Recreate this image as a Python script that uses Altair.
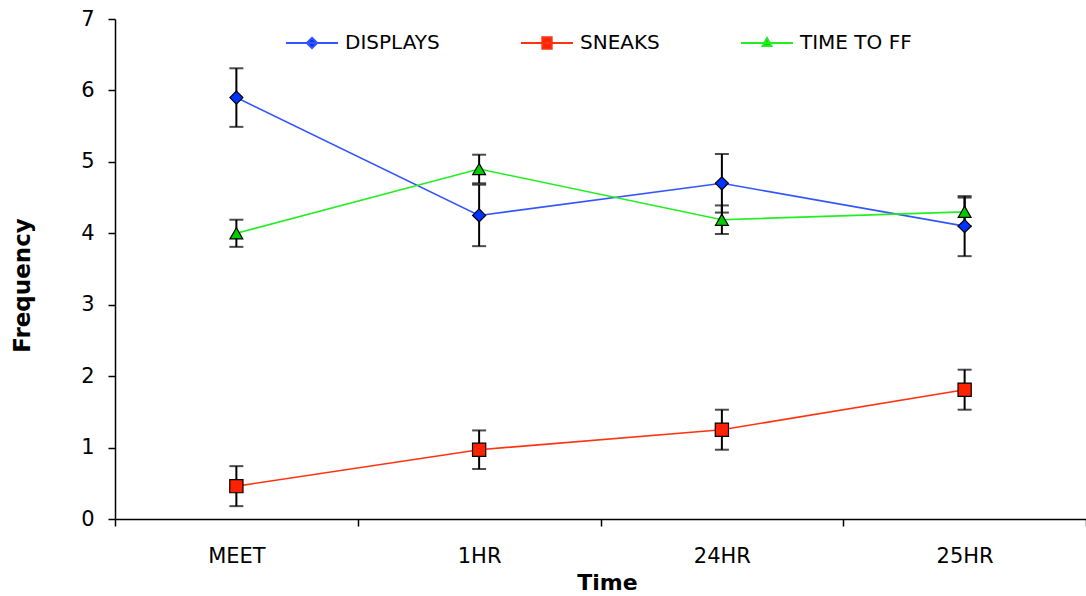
import altair as alt
import pandas as pd

times = ["MEET", "1HR", "24HR", "25HR"]
series_names = ["DISPLAYS", "SNEAKS", "TIME TO FF"]

displays = [5.90, 4.25, 4.70, 4.10]
displays_err = [0.41, 0.43, 0.41, 0.42]
sneaks = [0.46, 0.97, 1.25, 1.81]
sneaks_err = [0.28, 0.27, 0.28, 0.28]
time_ff = [4.00, 4.90, 4.19, 4.30]
time_ff_err = [0.19, 0.20, 0.20, 0.20]

y_ticks = [0, 1, 2, 3, 4, 5, 6, 7]

line_colors = ["#3355ff", "#ff3311", "#22ee22"]
marker_fills = ["#0033ff", "#ff2200", "#00cc00"]
marker_shapes = ["diamond", "square", "triangle-up"]
marker_sizes = [170, 175, 165]
legend_paths = [
    "M-1,0L1,0M0,-0.2L0.2,0L0,0.2L-0.2,0Z",
    "M-1,0L1,0M-0.18,-0.22L0.18,-0.22L0.18,0.22L-0.18,0.22Z",
    "M-1,0L1,0M0,-0.19L0.17,0.12L-0.17,0.12Z",
]

rows = []
for name, vals, errs in [
    ("DISPLAYS", displays, displays_err),
    ("SNEAKS", sneaks, sneaks_err),
    ("TIME TO FF", time_ff, time_ff_err),
]:
    for t, v, e in zip(times, vals, errs):
        rows.append({"series": name, "time": t, "value": v, "lo": v - e, "hi": v + e})
df = pd.DataFrame(rows)

FONT = "DejaVu Sans"

x_enc = alt.X(
    "time:N",
    sort=times,
    scale=alt.Scale(type="band", domain=times, paddingInner=0, paddingOuter=0),
    axis=alt.Axis(
        title="Time",
        tickBand="extent",
        labelAngle=0,
        labelFont=FONT,
        labelFontSize=21,
        labelColor="#000000",
        labelPadding=19,
        tickSize=7,
        tickColor="#000000",
        tickWidth=1.5,
        domainColor="#000000",
        domainWidth=1.5,
        titleFont=FONT,
        titleFontSize=22,
        titleFontWeight="bold",
        titleColor="#000000",
        titleX=492,
        titleY=63,
        titleBaseline="middle",
        titleAlign="center",
        grid=False,
    ),
)
y_scale = alt.Scale(domain=[0, 7], nice=False, zero=True)
y_axis = alt.Axis(
    title="Frequency",
    values=y_ticks,
    format="d",
    labelFont=FONT,
    labelFontSize=21,
    labelColor="#000000",
    labelPadding=14,
    tickSize=7,
    tickColor="#000000",
    tickWidth=1.5,
    domainColor="#000000",
    domainWidth=1.5,
    titleFont=FONT,
    titleFontSize=23,
    titleFontWeight="bold",
    titleColor="#000000",
    titleAngle=270,
    titleX=-93,
    titleY=266,
    titleBaseline="middle",
    titleAlign="center",
    grid=False,
)

base = alt.Chart(df)

lines = base.mark_line(strokeWidth=1.6).encode(
    x=x_enc,
    y=alt.Y("value:Q", scale=y_scale, axis=y_axis),
    color=alt.Color(
        "series:N", scale=alt.Scale(domain=series_names, range=line_colors), legend=None
    ),
)

rules = base.mark_rule(color="#000000", strokeWidth=2).encode(
    x=x_enc,
    y=alt.Y("lo:Q", scale=y_scale, axis=y_axis),
    y2="hi:Q",
)
caps_hi = base.mark_tick(color="#000000", size=14, thickness=2).encode(
    x=x_enc, y=alt.Y("hi:Q", scale=y_scale, axis=y_axis)
)
caps_lo = base.mark_tick(color="#000000", size=14, thickness=2).encode(
    x=x_enc, y=alt.Y("lo:Q", scale=y_scale, axis=y_axis)
)

point_layers = []
for name, shp, fc, sz in zip(series_names, marker_shapes, marker_fills, marker_sizes):
    point_layers.append(
        base.transform_filter(alt.datum.series == name)
        .mark_point(
            shape=shp, filled=True, fill=fc, stroke="#000000", strokeWidth=1.2,
            size=sz, opacity=1,
        )
        .encode(x=x_enc, y=alt.Y("value:Q", scale=y_scale, axis=y_axis))
    )

legend_def = alt.Legend(
    title=None,
    orient="none",
    direction="horizontal",
    legendX=170,
    legendY=-3,
    symbolSize=2704,
    symbolStrokeWidth=2,
    labelFont=FONT,
    labelFontSize=20,
    labelColor="#000000",
    labelOffset=6,
    columnPadding=77,
    padding=0,
)
legend_layer = (
    base.transform_filter("false")
    .mark_point(filled=True, opacity=1)
    .encode(
        fill=alt.Fill("series:N", scale=alt.Scale(domain=series_names, range=marker_fills), legend=legend_def),
        stroke=alt.Stroke("series:N", scale=alt.Scale(domain=series_names, range=line_colors), legend=legend_def),
        shape=alt.Shape("series:N", scale=alt.Scale(domain=series_names, range=legend_paths), legend=legend_def),
    )
)

chart = (
    alt.layer(lines, rules, caps_hi, caps_lo, *point_layers, legend_layer)
    .resolve_scale(color="independent", fill="independent", stroke="independent", shape="independent")
    .properties(
        width=971,
        height=500,
        autosize=alt.AutoSizeParams(type="none"),
        padding={"left": 115, "top": 19, "right": 0, "bottom": 77},
        background="#ffffff",
    )
    .configure_view(stroke=None)
)

chart.save("out.html", embed_options={"renderer": "svg", "actions": False})
